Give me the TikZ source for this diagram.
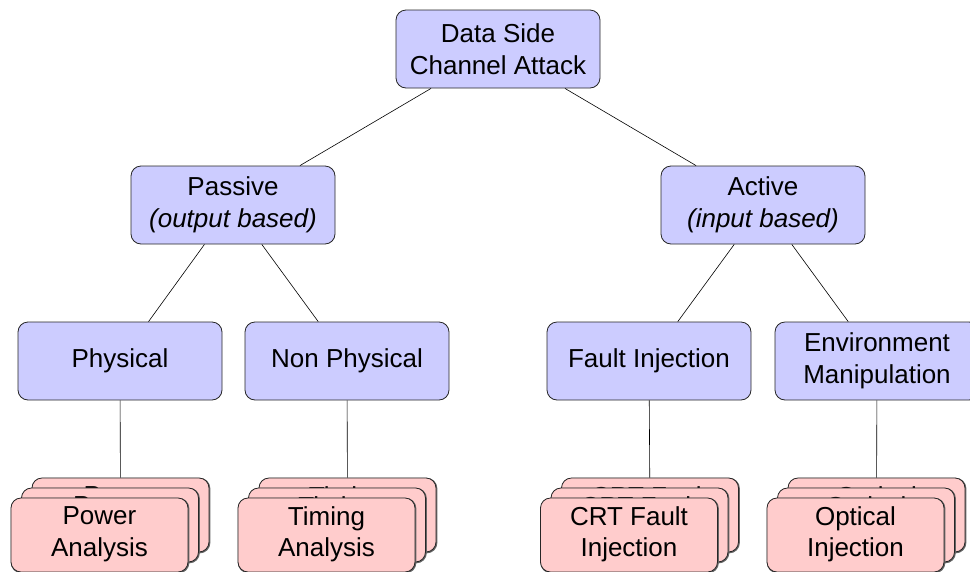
\documentclass[tikz,border=0pt]{standalone}
\usepackage{fontspec}
\setmainfont{Liberation Sans}
\begin{document}
\begin{tikzpicture}[x=1pt,y=-1pt,
  every node/.style={font=\fontsize{26}{31.5}\selectfont, align=center, inner sep=0pt},
  catbox/.style={draw=black!85, line width=0.8pt, fill=blue!20, rounded corners=10pt,
    minimum width=204pt, minimum height=78pt},
  leafbox/.style={draw=black!85, line width=0.8pt, fill=red!20, rounded corners=10pt,
    minimum width=177pt, minimum height=74pt},
  leafshadow/.style={draw=black!60, line width=1.6pt, rounded corners=10pt,
    minimum width=177pt, minimum height=74pt},
  leaftext/.style={yshift=0.8pt},
  link/.style={draw=black, line width=0.6pt}]
\useasboundingbox (0,0) rectangle (970,571);
\clip (0,0) rectangle (970,571);

% category nodes
\node[catbox] (root) at (498,49) {Data Side\\Channel Attack};
\node[catbox] (passive) at (233,205) {Passive\\\textit{(output based)}};
\node[catbox] (active) at (763,205) {Active\\\textit{(input based)}};
\node[catbox] (phys) at (120,361) {Physical};
\node[catbox] (nonphys) at (347,361) {Non Physical};
\node[catbox] (fault) at (649,361) {Fault Injection};
\node[catbox] (env) at (877,361) {Environment\\Manipulation};

% connectors between categories
\draw[link] (root) -- (passive);
\draw[link] (root) -- (active);
\draw[link] (passive) -- (phys);
\draw[link] (passive) -- (nonphys);
\draw[link] (active) -- (fault);
\draw[link] (active) -- (env);

% stacked leaf cards: back, middle, front
\newcommand{\leafstack}[3]{%
  \foreach \k/\dx/\dy in {back/0/0, mid/-10.5/10, front/-21/20} {
    \node[leafshadow] at ([xshift=\dx pt+0.6pt, yshift=-\dy pt-0.6pt]#2) {};
    \node[leafbox] (#1-\k) at ([xshift=\dx pt, yshift=-\dy pt]#2) {};
    \node[leaftext] (#1-\k-t) at (#1-\k.center) {#3};
  }%
}
\coordinate (powc) at (120.5,515);
\coordinate (timc) at (347.5,515);
\coordinate (crtc) at (650,515);
\coordinate (optc) at (876.5,515);
\leafstack{pow}{powc}{Power\\Analysis}
\leafstack{tim}{timc}{Timing\\Analysis}
\leafstack{crt}{crtc}{CRT Fault\\Injection}
\leafstack{opt}{optc}{Optical\\Injection}

% connectors to the leaf stacks
\draw[link] (phys) -- (pow-back);
\draw[link] (nonphys) -- (tim-back);
\draw[link] (fault) -- (crt-back);
\draw[link] (env) -- (opt-back);
\end{tikzpicture}
\end{document}
